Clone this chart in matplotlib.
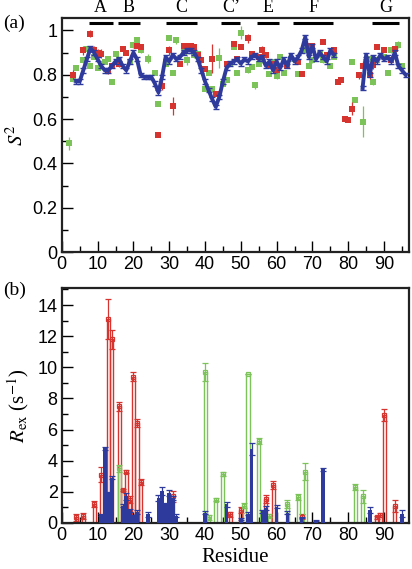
import matplotlib
matplotlib.use("Agg")
import matplotlib.pyplot as plt
import matplotlib.transforms as mtransforms
from matplotlib.ticker import MultipleLocator
import numpy as np

# ---- panel (a): order parameters S^2 ----
blue_res = [4, 5, 6, 7, 8, 9, 10, 11, 12, 13, 14, 15, 16, 17, 18, 19, 20, 21, 22, 23, 24, 25, 26, 27, 28,
            29, 30, 31, 32, 33, 34, 35, 36, 37, 38, 39, 40, 41, 42, 43, 44, 45, 46, 47, 48, 49, 50, 51,
            52, 53, 54, 55, 56, 57, 58, 59, 60, 61, 62, 63, 64, 65, 66, 67, 68, 69, 70, 71, 72, 73, 74,
            75, 76, 84, 85, 86, 87, 88, 89, 90, 91, 92, 93, 94, 95, 96]
blue_s2 = [0.77, 0.77, 0.82, 0.87, 0.92, 0.90, 0.87, 0.84, 0.82, 0.82, 0.84, 0.86, 0.87, 0.84, 0.82,
           0.86, 0.90, 0.87, 0.80, 0.79, 0.79, 0.79, 0.76, 0.72, 0.79, 0.88, 0.86, 0.89, 0.87, 0.88,
           0.90, 0.91, 0.91, 0.90, 0.87, 0.82, 0.77, 0.73, 0.69, 0.655, 0.70, 0.77, 0.83, 0.85, 0.86,
           0.87, 0.85, 0.87, 0.86, 0.88, 0.89, 0.87, 0.88, 0.84, 0.86, 0.82, 0.86, 0.83, 0.87, 0.84,
           0.89, 0.86, 0.88, 0.91, 0.97, 0.88, 0.93, 0.87, 0.90, 0.88, 0.86, 0.91, 0.89,
           0.74, 0.89, 0.80, 0.88, 0.86, 0.89, 0.87, 0.88, 0.86, 0.90, 0.84, 0.82, 0.80]
blue_err = [0.01] * len(blue_res)

red_res = [3, 6, 8, 9, 10, 11, 13, 14, 16, 17, 18, 21, 22, 27, 28, 30, 31, 33, 34, 35, 36, 37, 38, 39,
           40, 42, 43, 46, 48, 49, 50, 52, 53, 55, 56, 57, 58, 59, 60, 63, 66, 67, 69, 70, 73, 74, 76,
           77, 78, 79, 80, 81, 83, 84, 86, 87, 88, 90, 92, 93]
red_s2 = [0.80, 0.91, 0.985, 0.91, 0.90, 0.895, 0.815, 0.84, 0.85, 0.915, 0.90, 0.93, 0.925, 0.527,
          0.75, 0.91, 0.66, 0.85, 0.93, 0.93, 0.928, 0.925, 0.887, 0.865, 0.827, 0.872, 0.715, 0.85,
          0.94, 0.87, 0.925, 0.965, 0.895, 0.88, 0.91, 0.887, 0.84, 0.85, 0.82, 0.84, 0.857, 0.805,
          0.93, 0.93, 0.947, 0.887, 0.91, 0.767, 0.778, 0.60, 0.595, 0.647, 0.797, 0.84, 0.80, 0.845,
          0.925, 0.913, 0.865, 0.917]
red_err = [0.02, 0.02, 0.015, 0.02, 0.015, 0.02, 0.01, 0.01, 0.015, 0.01, 0.01, 0.01, 0.01, 0.005,
           0.02, 0.02, 0.04, 0.01, 0.01, 0.01, 0.01, 0.01, 0.01, 0.01, 0.01, 0.065, 0.01, 0.01, 0.01,
           0.01, 0.01, 0.02, 0.01, 0.01, 0.02, 0.01, 0.01, 0.01, 0.01, 0.01, 0.01, 0.01, 0.01, 0.015,
           0.01, 0.01, 0.01, 0.01, 0.01, 0.015, 0.01, 0.03, 0.015, 0.02, 0.02, 0.02, 0.01, 0.01, 0.01,
           0.01]

green_res = [2, 3, 4, 6, 7, 8, 9, 10, 12, 13, 14, 15, 16, 19, 20, 21, 22, 24, 26, 27, 29, 30, 31, 32,
             34, 35, 37, 38, 40, 41, 42, 44, 45, 46, 47, 48, 49, 50, 52, 53, 54, 55, 56, 58, 59, 60,
             61, 62, 64, 66, 68, 69, 70, 72, 73, 74, 75, 76, 81, 82, 84, 85, 86, 87, 88, 90, 91, 92,
             94, 95]
green_s2 = [0.49, 0.78, 0.83, 0.865, 0.917, 0.84, 0.88, 0.83, 0.857, 0.872, 0.767, 0.895, 0.865, 0.857,
            0.932, 0.955, 0.91, 0.872, 0.81, 0.67, 0.85, 0.967, 0.81, 0.955, 0.902, 0.865, 0.887,
            0.895, 0.737, 0.81, 0.737, 0.877, 0.76, 0.775, 0.85, 0.925, 0.81, 0.99, 0.82, 0.835,
            0.752, 0.85, 0.865, 0.805, 0.857, 0.793, 0.88, 0.81, 0.872, 0.805, 0.91, 0.84, 0.865,
            0.895, 0.865, 0.88, 0.84, 0.88, 0.857, 0.688, 0.587, 0.857, 0.872, 0.767, 0.865, 0.88,
            0.81, 0.91, 0.935, 0.84]
green_err = [0.03, 0.015, 0.01, 0.01, 0.01, 0.01, 0.01, 0.01, 0.01, 0.01, 0.005, 0.01, 0.01, 0.01,
             0.01, 0.01, 0.01, 0.02, 0.01, 0.01, 0.01, 0.01, 0.01, 0.015, 0.01, 0.02, 0.01, 0.01,
             0.01, 0.01, 0.01, 0.045, 0.01, 0.01, 0.01, 0.01, 0.01, 0.03, 0.01, 0.01, 0.015, 0.01,
             0.01, 0.01, 0.01, 0.01, 0.01, 0.01, 0.01, 0.01, 0.01, 0.01, 0.01, 0.01, 0.01, 0.01,
             0.01, 0.01, 0.01, 0.005, 0.07, 0.01, 0.01, 0.015, 0.01, 0.01, 0.01, 0.01, 0.015, 0.01]

# secondary structure elements (start, end, label)
ss_labels = ["A", "B", "C", "C\u2019", "E", "F", "G"]
ss_start = [7.5, 15.7, 29.2, 44.6, 54.4, 64.6, 86.7]
ss_end = [14.2, 21.8, 37.7, 49.9, 60.7, 75.8, 94.2]

# ---- panel (b): exchange contributions R_ex ----
red_rex_res = [4, 6, 9, 11, 13, 14, 16, 17, 18, 19, 20, 21, 22, 31, 47, 50, 57, 59, 67, 88, 89, 90, 93]
red_rex = [0.35, 0.45, 1.2, 3.1, 13.1, 11.8, 7.5, 2.1, 3.3, 1.5, 9.4, 6.4, 2.65, 1.7, 0.55, 0.85,
           1.55, 2.45, 0.4, 0.35, 0.5, 6.95, 1.1]
red_rex_err = [0.2, 0.2, 0.2, 0.5, 1.3, 0.6, 0.3, 0.05, 0.1, 0.25, 0.3, 0.25, 0.2, 0.35, 0.15, 0.2,
               0.25, 0.25, 0.15, 0.1, 0.15, 0.4, 0.4]

green_rex_res = [16, 40, 41, 43, 45, 51, 52, 55, 58, 63, 66, 68, 82, 84]
green_rex = [3.5, 9.7, 0.35, 1.5, 3.15, 1.1, 9.6, 5.25, 0.45, 1.2, 1.65, 3.3, 2.3, 1.7]
green_rex_err = [0.2, 0.6, 0.15, 0.1, 0.15, 0.15, 0.0, 0.2, 0.1, 0.25, 0.2, 0.55, 0.2, 0.4]

blue_rex_res = [11, 12, 13, 14, 17, 18, 19, 20, 21, 24, 27, 28, 29, 30, 31, 32, 40, 46, 50, 52, 53,
                56, 57, 60, 63, 67, 71, 73, 86, 95]
blue_rex = [0.5, 4.8, 1.95, 2.9, 1.1, 1.7, 0.8, 0.45, 0.7, 0.55, 1.6, 2.05, 1.2, 1.9, 1.6, 0.45,
            0.65, 1.2, 0.25, 0.6, 4.75, 0.75, 0.95, 1.05, 0.65, 0.35, 0.15, 3.45, 0.85, 0.6]
blue_rex_err = [0.05, 0.1, 0.05, 0.1, 0.1, 0.2, 0.1, 0.05, 0.1, 0.15, 0.2, 0.25, 0.1, 0.2, 0.15, 0.1,
                0.1, 0.15, 0.05, 0.1, 0.4, 0.1, 0.15, 0.1, 0.1, 0.05, 0.05, 0.1, 0.2, 0.25]

RED = "#d6342f"
GREEN = "#7cc35a"
BLUE = "#2f3b9c"

plt.rcParams['font.family'] = ['Liberation Sans', 'DejaVu Sans']
plt.rcParams['mathtext.fontset'] = 'stix'
serif = ['Liberation Serif', 'DejaVu Serif']

fig = plt.figure(figsize=(4.12, 5.69), dpi=100)
axa = fig.add_axes([0.150, 0.557, 0.843, 0.411])
axb = fig.add_axes([0.150, 0.081, 0.843, 0.413])

# panel (a)
eb = dict(fmt='s', ms=4.5, elinewidth=0.9, capsize=2, capthick=0.9, mew=0)
axa.errorbar(green_res, green_s2, yerr=green_err, color=GREEN, zorder=2, **eb)
axa.errorbar(red_res, red_s2, yerr=red_err, color=RED, zorder=3, **eb)

br = np.array(blue_res)
bs = np.array(blue_s2)
be = np.array(blue_err)
cut = np.where(np.diff(br) > 2)[0] + 1
for seg_r, seg_s, seg_e in zip(np.split(br, cut), np.split(bs, cut), np.split(be, cut)):
    axa.errorbar(seg_r, seg_s, yerr=seg_e, color=BLUE, lw=2.8, elinewidth=1.0,
                 capsize=2.5, capthick=1.0, zorder=4)

trans = mtransforms.blended_transform_factory(axa.transData, axa.transAxes)
for lab, s, e in zip(ss_labels, ss_start, ss_end):
    axa.plot([s, e], [1.032, 1.032], color='black', lw=2.2, solid_capstyle='butt', zorder=5)
    axa.text((s + e) / 2, 1.008, lab, transform=trans, ha='center', va='bottom',
             fontsize=13, family=serif)

axa.set_xlim(0, 97)
axa.set_ylim(0, 1.055)
axa.yaxis.set_minor_locator(MultipleLocator(0.1))
axa.set_yticks([0, 0.2, 0.4, 0.6, 0.8, 1.0])
axa.set_yticklabels(["0", "0.2", "0.4", "0.6", "0.8", "1"])
axa.set_ylabel("$S^2$", fontsize=15, labelpad=4)
axa.text(-0.168, 0.98, "(a)", transform=axa.transAxes, fontsize=14, family=serif,
         ha='left', va='center')

# panel (b)
wopen = 0.85
axb.bar(red_rex_res, red_rex, width=wopen, facecolor='none', edgecolor=RED, lw=1.0, zorder=2)
axb.errorbar(red_rex_res, red_rex, yerr=red_rex_err, fmt='s', ms=3.5, mfc='none', mec=RED,
             mew=0.9, color=RED, elinewidth=0.9, capsize=2, capthick=0.9, zorder=2)
axb.bar(green_rex_res, green_rex, width=wopen, facecolor='none', edgecolor=GREEN, lw=1.0, zorder=2)
axb.errorbar(green_rex_res, green_rex, yerr=green_rex_err, fmt='s', ms=3.5, mfc='none', mec=GREEN,
             mew=0.9, color=GREEN, elinewidth=0.9, capsize=2, capthick=0.9, zorder=2)
axb.bar(blue_rex_res, blue_rex, width=1.0, color=BLUE, lw=0, zorder=3)
axb.errorbar(blue_rex_res, blue_rex, yerr=blue_rex_err, fmt='none', ecolor=BLUE,
             elinewidth=0.9, capsize=2, capthick=0.9, zorder=3)

axb.set_xlim(0, 97)
axb.set_ylim(0, 15.1)
axb.yaxis.set_major_locator(MultipleLocator(2))
axb.yaxis.set_minor_locator(MultipleLocator(1))
axb.set_ylabel("$R_{\\mathrm{ex}}$ (s$^{-1}$)", family=serif, fontsize=15, labelpad=5)
axb.set_xlabel("Residue", family=serif, fontsize=15, labelpad=3)
axb.text(-0.168, 0.99, "(b)", transform=axb.transAxes, fontsize=14, family=serif,
         ha='left', va='center')

for ax in (axa, axb):
    ax.xaxis.set_major_locator(MultipleLocator(10))
    ax.xaxis.set_minor_locator(MultipleLocator(5))
    ax.tick_params(which='both', direction='in', top=False, right=False, labelsize=13,
                   width=1.0, pad=3)
    ax.tick_params(which='major', length=8)
    ax.tick_params(which='minor', length=4)
    for sp in ax.spines.values():
        sp.set_linewidth(1.6)
        sp.set_color('#222222')

fig.savefig("out.png", dpi=100)
